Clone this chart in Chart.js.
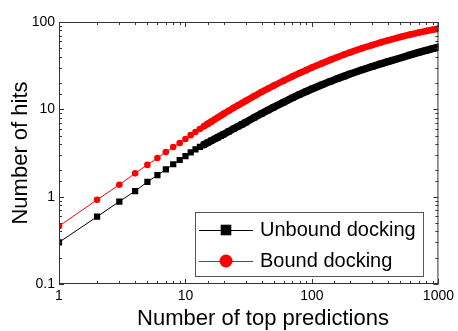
<!DOCTYPE html>
<html>
<head>
<meta charset="utf-8">
<title>Number of hits</title>
<script src="https://cdn.jsdelivr.net/npm/chart.js@4/dist/chart.umd.min.js"></script>
<style>
  html, body { margin: 0; padding: 0; background: #fff; }
</style>
</head>
<body>
<canvas id="hits-chart" width="458" height="331"></canvas>
<script>
// Values
const topPredictions = [1, 2, 3, 4, 5, 6, 7, 8, 9, 10, 11, 12, 13, 14, 15, 16, 17, 18, 19, 20,
    22, 24, 26, 28, 30, 35, 40, 45, 50, 60, 70, 80, 90, 100, 120, 140, 160, 180, 200,
    250, 300, 350, 400, 500, 600, 700, 800, 900, 1000];
const unboundHits = [0.30, 0.59, 0.88, 1.16, 1.48, 1.76, 2.05, 2.35, 2.63, 2.92,
    3.21, 3.48, 3.71, 3.94, 4.15, 4.37, 4.58, 4.78, 4.98, 5.18,
    5.58, 5.98, 6.36, 6.73, 7.11, 8.06, 8.95, 9.80, 10.6, 12.1, 13.5, 14.8, 16.0, 17.1,
    19.1, 20.9, 22.5, 24.0, 25.4, 28.4, 30.9, 33.2, 35.2, 38.7, 42.0, 44.9, 47.4, 49.6, 51.5];
const boundHits = [0.46, 0.92, 1.37, 1.85, 2.31, 2.77, 3.24, 3.70, 4.12, 4.58,
    5.06, 5.51, 5.95, 6.39, 6.81, 7.23, 7.65, 8.06, 8.46, 8.86,
    9.63, 10.4, 11.1, 11.8, 12.5, 14.2, 15.8, 17.3, 18.7, 21.3, 23.8, 26.0, 28.1, 30.1,
    33.6, 36.8, 39.7, 42.4, 44.8, 50.1, 54.5, 58.3, 61.7, 67.3, 71.8, 75.6, 78.7, 81.4, 83.8];
const seriesNames = ['Unbound docking', 'Bound docking'];
const xTickLabels = ['1', '10', '100', '1000'];
const yTickLabels = ['0.1', '1', '10', '100'];
const xTitle = 'Number of top predictions';
const yTitle = 'Number of hits';

const FONT = 'Arial, "Liberation Sans", sans-serif';
Chart.defaults.font.family = FONT;
Chart.defaults.color = '#000';

const isDecade = v => Math.abs(Math.log10(v) - Math.round(Math.log10(v))) < 1e-6;
const fmt = v => String(Number(v.toPrecision(6)));

// markers merge into a solid band once they crowd together
const bandFrom = 14;

function series(values, color, style, radius, bandWidth) {
    return {
        data: topPredictions.map((x, i) => ({ x, y: values[i] })),
        borderColor: color,
        backgroundColor: color,
        borderWidth: 1,
        borderCapStyle: 'round',
        borderJoinStyle: 'round',
        pointStyle: style,
        pointRadius: radius,
        pointBorderWidth: 0,
        pointHoverRadius: radius,
        segment: {
            borderWidth: c => c.p0.parsed.x >= bandFrom ? bandWidth : 1
        }
    };
}

// frame, inward ticks, axis titles and the boxed legend
const decorations = {
    id: 'decorations',
    afterDraw(chart) {
        const { ctx, chartArea: a, scales: { x, y } } = chart;
        ctx.save();
        ctx.strokeStyle = '#333';
        ctx.lineWidth = 1;
        ctx.strokeRect(a.left + 0.5, a.top + 0.5, a.right - a.left - 1, a.bottom - a.top - 1);

        ctx.beginPath();
        x.ticks.forEach(t => {
            const px = Math.round(x.getPixelForValue(t.value)) + 0.5;
            const len = isDecade(t.value) ? 5 : 3;
            ctx.moveTo(px, a.bottom); ctx.lineTo(px, a.bottom - len);
            ctx.moveTo(px, a.top); ctx.lineTo(px, a.top + len);
        });
        y.ticks.forEach(t => {
            const py = Math.round(y.getPixelForValue(t.value)) + 0.5;
            const len = isDecade(t.value) ? 5 : 3;
            ctx.moveTo(a.left, py); ctx.lineTo(a.left + len, py);
            ctx.moveTo(a.right, py); ctx.lineTo(a.right - len, py);
        });
        ctx.stroke();

        // axis titles
        ctx.fillStyle = '#000';
        ctx.font = '22px ' + FONT;
        ctx.textAlign = 'center';
        ctx.textBaseline = 'middle';
        ctx.fillText(xTitle, 263, 319);
        ctx.save();
        ctx.translate(21, (a.top + a.bottom) / 2);
        ctx.rotate(-Math.PI / 2);
        ctx.fillText(yTitle, 0, 0);
        ctx.restore();

        // legend
        const box = { left: 195, top: 212, right: 423, bottom: 276 };
        ctx.fillStyle = '#fff';
        ctx.fillRect(box.left, box.top, box.right - box.left, box.bottom - box.top);
        ctx.strokeStyle = '#555';
        ctx.strokeRect(box.left + 0.5, box.top + 0.5, box.right - box.left, box.bottom - box.top);
        const rows = [230, 261];
        const markers = [{ style: 'rect', radius: 7.5 }, { style: 'circle', radius: 6.5 }];
        chart.data.datasets.forEach((ds, i) => {
            const yy = rows[i];
            ctx.strokeStyle = ds.borderColor;
            ctx.lineWidth = 1;
            ctx.beginPath();
            ctx.moveTo(199, yy + 0.5);
            ctx.lineTo(253, yy + 0.5);
            ctx.stroke();
            ctx.fillStyle = ds.backgroundColor;
            Chart.helpers.drawPoint(ctx, {
                pointStyle: markers[i].style, radius: markers[i].radius, rotation: 0, borderWidth: 0
            }, 226, yy);
            ctx.fillStyle = '#000';
            ctx.font = '20px ' + FONT;
            ctx.textAlign = 'left';
            ctx.textBaseline = 'middle';
            ctx.fillText(seriesNames[i], 260, yy);
        });
        ctx.restore();
    }
};

new Chart(document.getElementById('hits-chart'), {
    type: 'line',
    data: {
        datasets: [
            series(unboundHits, '#000000', 'rect', 4.4, 7.5),
            series(boundHits, '#ff0000', 'circle', 3.3, 6.6)
        ]
    },
    options: {
        responsive: false,
        animation: false,
        layout: { padding: { top: 22, right: 17, left: 0, bottom: 0 } },
        plugins: { legend: { display: false }, tooltip: { enabled: false } },
        scales: {
            x: {
                type: 'logarithmic',
                min: 1,
                max: 1000,
                grid: { display: false, drawTicks: false },
                border: { display: false },
                ticks: {
                    autoSkip: false,
                    maxRotation: 0,
                    padding: 4,
                    font: { size: 14 },
                    callback: v => xTickLabels.includes(fmt(v)) ? fmt(v) : ''
                },
                afterFit: s => { s.height = 47; }
            },
            y: {
                type: 'logarithmic',
                min: 0.1,
                max: 100,
                grid: { display: false, drawTicks: false },
                border: { display: false },
                ticks: {
                    autoSkip: false,
                    padding: 4,
                    font: { size: 14 },
                    callback: v => yTickLabels.includes(fmt(v)) ? fmt(v) : ''
                },
                afterFit: s => { s.width = 59; }
            }
        }
    },
    plugins: [decorations]
});
</script>
</body>
</html>
